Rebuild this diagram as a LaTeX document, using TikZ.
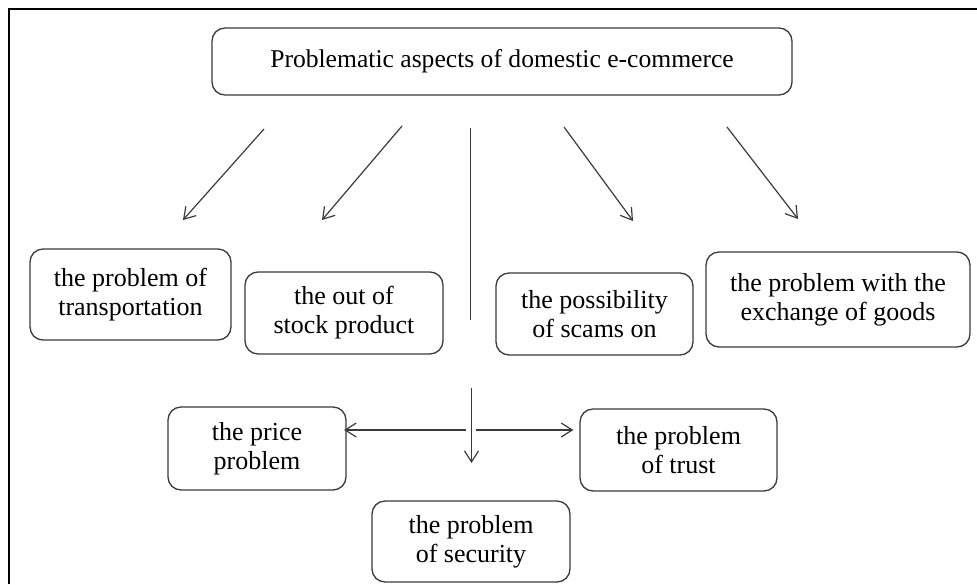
\documentclass[tikz,border=0pt]{standalone}
\usepackage{fontspec}
\setmainfont{Liberation Serif}
\usetikzlibrary{arrows.meta}
\definecolor{edge}{HTML}{3A3A3A}
\tikzset{
  box/.style={draw=edge, line width=1.3pt, rounded corners=13pt, align=center,
    inner sep=0pt, font=\fontsize{26}{29}\selectfont, text=black},
  link/.style={draw=edge, line width=1.2pt, -{Straight Barb[length=11pt,width=14pt,line width=1.2pt]}},
  plainlink/.style={draw=edge, line width=1.2pt},
}
\begin{document}
\begin{tikzpicture}[x=1pt, y=-1pt]
\useasboundingbox (0,0) rectangle (977,584);
% frame (top and left edges)
\draw[line width=2pt, black] (9,584) -- (9,9) -- (977,9);

% boxes
\node[box, minimum width=580pt, minimum height=67pt, font=\fontsize{25.6}{29}\selectfont] (top) at (502,61.5) {Problematic aspects of domestic e-commerce};
\node[box, minimum width=201pt, minimum height=91pt] (transport) at (130.5,294.5) {the problem of\\transportation};
\node[box, minimum width=198pt, minimum height=82pt] (stock) at (344,313) {the out of\\stock product};
\node[box, minimum width=197pt, minimum height=82pt] (scams) at (594.5,314) {the possibility\\of scams on};
\node[box, minimum width=264pt, minimum height=95pt] (exchange) at (838,299.5) {the problem with the\\exchange of goods};
\node[box, minimum width=178pt, minimum height=83pt] (price) at (257,448.5) {the price\\problem};
\node[box, minimum width=197pt, minimum height=82pt] (trust) at (678.5,450) {the problem\\of trust};
\node[box, minimum width=198pt, minimum height=81pt] (security) at (471,541.5) {the problem\\of security};

% connector end points
\coordinate (a1s) at (264,129);  \coordinate (a1e) at (183,220);
\coordinate (a2s) at (402,126);  \coordinate (a2e) at (322,220);
\coordinate (a3s) at (564,127);  \coordinate (a3e) at (633,221);
\coordinate (a4s) at (727,127);  \coordinate (a4e) at (798,219);
\coordinate (hubtop) at (470.5,128);  \coordinate (hubbot) at (470.5,320);
\coordinate (downs) at (471.5,388);   \coordinate (downe) at (471.5,463);
\coordinate (lefts) at (466,430);     \coordinate (rights) at (476,430);

% connectors
\draw[link] (a1s) -- (a1e);
\draw[link] (a2s) -- (a2e);
\draw[link] (a3s) -- (a3e);
\draw[link] (a4s) -- (a4e);
\draw[plainlink] (hubtop) -- (hubbot);
\draw[link] (downs) -- (downe);
\draw[link] (lefts) -- ([xshift=-2.5pt]price.east |- lefts);
\draw[link] (rights) -- ([xshift=-6pt]trust.west |- rights);
\end{tikzpicture}
\end{document}
